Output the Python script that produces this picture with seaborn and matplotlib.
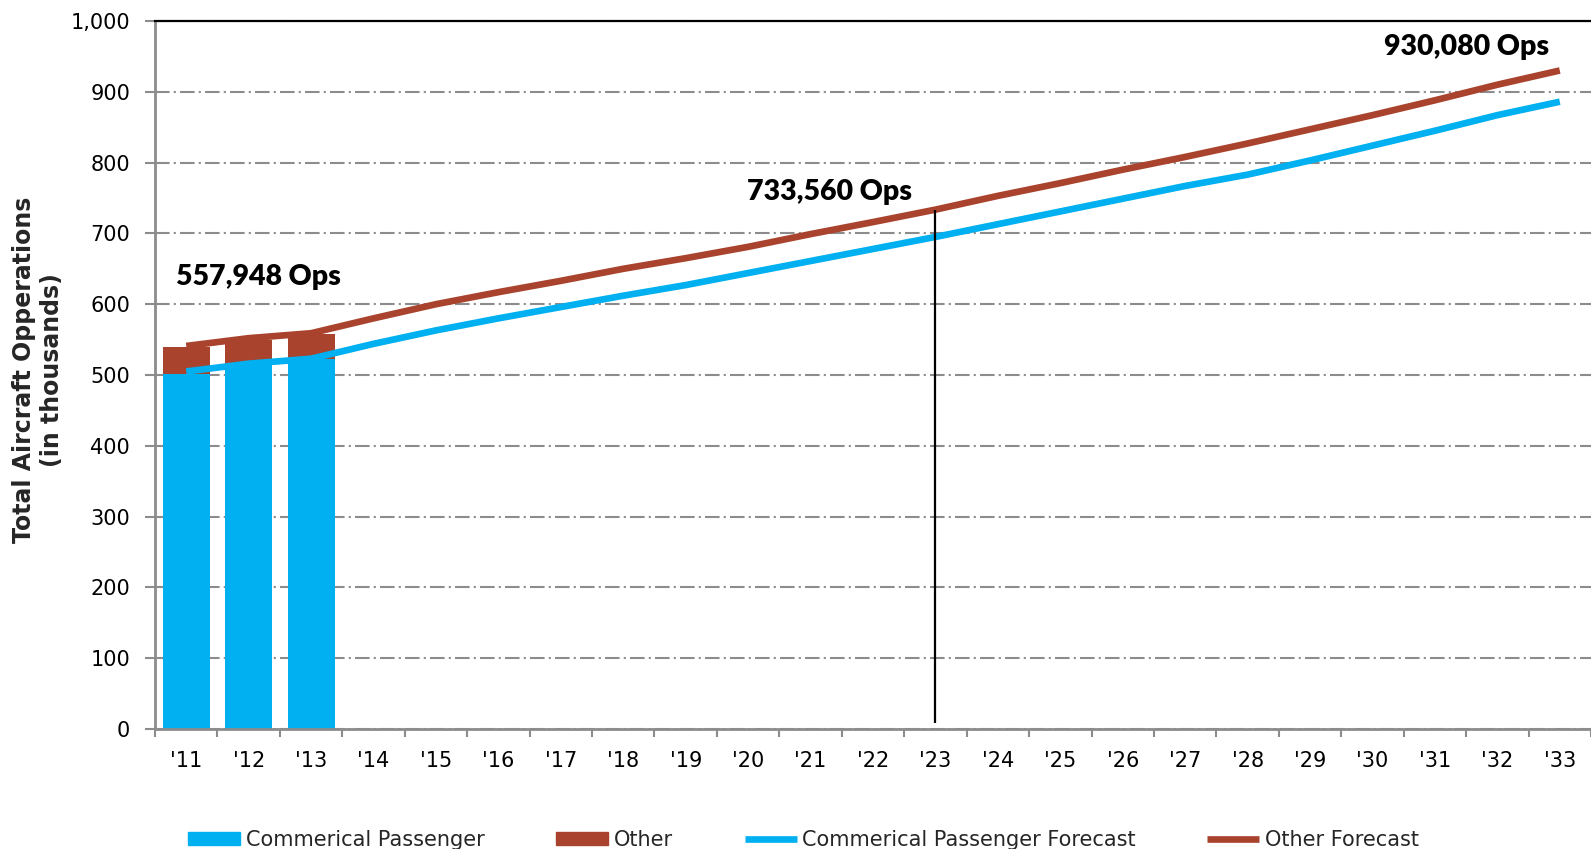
import matplotlib
matplotlib.use("Agg")
import matplotlib.pyplot as plt
from matplotlib.patches import Patch
from matplotlib.lines import Line2D
import seaborn as sns
import pandas as pd
import numpy as np

# ---------------- data ----------------
years = ["'11", "'12", "'13", "'14", "'15", "'16", "'17", "'18", "'19", "'20", "'21",
         "'22", "'23", "'24", "'25", "'26", "'27", "'28", "'29", "'30", "'31", "'32", "'33"]
hist_years = ["'11", "'12", "'13"]
commercial_passenger = [502, 516, 522]
other = [37, 34, 35.9]
commercial_forecast = [505, 516, 523, 544, 563, 580, 596, 612, 627, 644, 661, 678,
                       695, 713, 731, 749, 767, 783, 803, 824, 845, 867, 886]
other_forecast = [541, 552, 559, 580, 600, 617, 633, 650, 665, 681, 699, 716,
                  733.56, 753, 771, 790, 808, 827, 847, 867, 888, 910, 930.08]
y_ticks = [0, 100, 200, 300, 400, 500, 600, 700, 800, 900, 1000]
annot_texts = ["557,948 Ops", "733,560 Ops", "930,080 Ops"]
annot_x = [1.15, 10.3, 20.5]
annot_y = [638, 758, 963]
marker_year = "'23"
legend_labels = ["Commerical Passenger", "Other", "Commerical Passenger Forecast", "Other Forecast"]

BLUE = "#00B0F0"
BROWN = "#A9432D"
GRID = "#8C8C8C"

# ---------------- style ----------------
sns.set_style("white")
plt.rcParams["font.family"] = ["DejaVu Sans"]

W, H = 1591, 849
fig = plt.figure(figsize=(W / 100, H / 100), dpi=100)
ax = fig.add_axes([155 / W, 1 - 729 / H, 1 - 155 / W, (729 - 21) / H])

totals = [c + o for c, o in zip(commercial_passenger, other)]
sns.barplot(x=hist_years, y=totals, order=years, color=BROWN, width=0.75,
            saturation=1, errorbar=None, linewidth=0, ax=ax, zorder=2)
sns.barplot(x=hist_years, y=commercial_passenger, order=years, color=BLUE, width=0.75,
            saturation=1, errorbar=None, linewidth=0, ax=ax, zorder=2)

df = pd.DataFrame({"pos": np.arange(len(years)),
                   "cp": commercial_forecast, "of": other_forecast})
sns.lineplot(data=df, x="pos", y="cp", color=BLUE, lw=4.8, ax=ax, zorder=3,
             solid_capstyle="butt")
sns.lineplot(data=df, x="pos", y="of", color=BROWN, lw=4.8, ax=ax, zorder=3,
             solid_capstyle="butt")

mi = years.index(marker_year)
ax.vlines(mi, 8, other_forecast[mi], color="black", lw=1.6, zorder=4)

for t, x, y in zip(annot_texts, annot_x, annot_y):
    ax.text(x, y, t, ha="center", va="center", fontsize=20.5, fontweight="heavy",
            family=["Lato", "DejaVu Sans"], color="black", zorder=5)

# axes
ax.set_xlim(-0.5, -0.5 + (W - 155) / 62.75)
ax.set_ylim(0, 1000)
ax.set_xlabel("")
ax.set_ylabel("")
ax.set_xticks(range(len(years)))
ax.set_xticklabels(years)
ax.set_xticks(np.arange(-0.5, len(years), 1), minor=True)
ax.tick_params(axis="x", which="major", length=0, pad=16, labelsize=15, colors="black")
ax.tick_params(axis="x", which="minor", length=6, width=1.5, color=GRID, direction="out",
               bottom=True)
ax.set_yticks(y_ticks)
ax.set_yticklabels([f"{v:,}" for v in y_ticks])
ax.tick_params(axis="y", length=7, width=1.5, color=GRID, direction="out", left=True,
               pad=11, labelsize=15, labelcolor="black")

ax.set_axisbelow(True)
ax.yaxis.grid(True, color=GRID, lw=1.5, linestyle=(0, (7, 2, 1, 2)))
ax.xaxis.grid(False)

ax.spines["top"].set_color("black")
ax.spines["top"].set_linewidth(1.6)
ax.spines["right"].set_visible(False)
for s in ("left", "bottom"):
    ax.spines[s].set_color(GRID)
    ax.spines[s].set_linewidth(2)

fig.text(38 / W, 1 - 370 / H, "Total Aircraft Opperations\n(in thousands)", rotation=90,
         ha="center", va="center", fontsize=17, fontweight="bold",
         multialignment="center", linespacing=1.2)

handles = [Patch(color=BLUE), Patch(color=BROWN),
           Line2D([], [], color=BLUE, lw=4.8, solid_capstyle="butt"),
           Line2D([], [], color=BROWN, lw=4.8, solid_capstyle="butt")]
fig.legend(handles, legend_labels, loc="center", bbox_to_anchor=(0.505, 0.011), ncol=4,
           frameon=False, fontsize=15, handlelength=2.5, handletextpad=0.25,
           columnspacing=3.45, handleheight=0.6)

fig.savefig("out.png", dpi=100)
